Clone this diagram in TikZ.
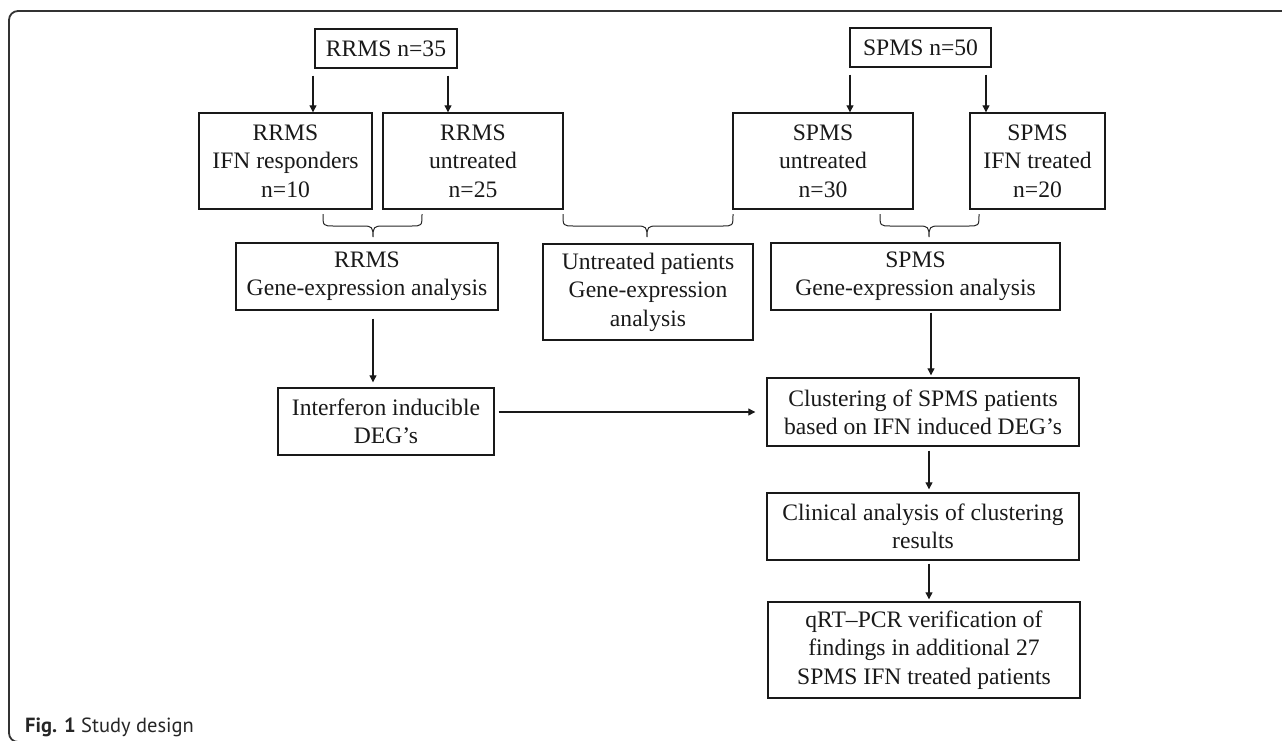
\documentclass[tikz,border=0pt]{standalone}
\usepackage{fontspec}
\setmainfont{Liberation Serif}
\newfontfamily\capfont{PT Sans}
\usetikzlibrary{arrows.meta}
\newcommand\mybrace[4]{% left, tip, right, top y
  \draw[bracestyle] (#1,#4) .. controls (#1,#4+12) and (#1,#4+12) .. (#1+11,#4+12)
    -- (#2-10,#4+12) .. controls (#2-1,#4+12) and (#2,#4+13) .. (#2,#4+23)
    .. controls (#2,#4+13) and (#2+1,#4+12) .. (#2+10,#4+12)
    -- (#3-11,#4+12) .. controls (#3,#4+12) and (#3,#4+12) .. (#3,#4);}
\begin{document}
\begin{tikzpicture}[x=1pt,y=-1pt,
  box/.style={draw=black!90, line width=1.4pt, align=center, inner sep=0pt,
    font=\fontsize{23.6}{28.4}\selectfont, text=black!90},
  arr/.style={draw=black!90, line width=1.1pt, -{Triangle[length=7pt,width=7pt]}},
  bracestyle/.style={draw=black!85, line width=1pt}]
\useasboundingbox (0,0) rectangle (1282,740);
% frame
\draw[black!80, line width=1.8pt, rounded corners=9pt] (1300,11) -- (9,11) -- (9,742) -- (60,742);
% boxes
\node[box, minimum width=142pt, minimum height=39pt] (r35) at (386,48.5) {RRMS n=35};
\node[box, minimum width=141pt, minimum height=39pt] (s50) at (920.5,47.5) {SPMS n=50};
\node[box, minimum width=173pt, minimum height=96pt] (rIFN) at (285.5,161) {RRMS\\IFN responders\\n=10};
\node[box, minimum width=180pt, minimum height=96pt] (rUnt) at (473,161) {RRMS\\untreated\\n=25};
\node[box, minimum width=180pt, minimum height=96pt] (sUnt) at (823,161) {SPMS\\untreated\\n=30};
\node[box, minimum width=135pt, minimum height=96pt] (sIFN) at (1037.5,161) {SPMS\\IFN treated\\n=20};
\node[box, minimum width=262pt, minimum height=67pt] (rGene) at (367,276.5) {RRMS\\Gene-expression analysis};
\node[box, minimum width=210pt, minimum height=96pt] (uGene) at (648,292) {Untreated patients\\Gene-expression\\analysis};
\node[box, minimum width=289pt, minimum height=67pt] (sGene) at (915.5,276.5) {SPMS\\Gene-expression analysis};
\node[box, minimum width=216pt, minimum height=67pt] (ifn) at (386,421.5) {Interferon inducible\\DEG’s};
\node[box, minimum width=312pt, minimum height=68pt] (clust) at (923,412) {Clustering of SPMS patients\\based on IFN induced DEG’s};
\node[box, minimum width=312pt, minimum height=67pt] (clin) at (923,526.5) {Clinical analysis of clustering\\results};
\node[box, minimum width=312pt, minimum height=96pt] (qrt) at (924,650) {qRT–PCR verification of\\findings in additional 27\\SPMS IFN treated patients};
% caption
\node[anchor=base west, inner sep=0pt, font=\capfont\fontsize{20.5}{24}\selectfont, text=black!85] (cap) at (25,732) {\textbf{Fig. 1} Study design};
% arrow x positions
\coordinate (xa1) at (313,0);
\coordinate (xa2) at (448,0);
\coordinate (xa3) at (850,0);
\coordinate (xa4) at (986,0);
\coordinate (xa5) at (373,0);
\coordinate (xa6) at (931,0);
\coordinate (xa7) at (929,0);
% arrows
\draw[arr, shorten <=7pt] (r35.south -| xa1) -- (rIFN.north -| xa1);
\draw[arr, shorten <=7pt] (r35.south -| xa2) -- (rUnt.north -| xa2);
\draw[arr, shorten <=7pt] (s50.south -| xa3) -- (sUnt.north -| xa3);
\draw[arr, shorten <=7pt] (s50.south -| xa4) -- (sIFN.north -| xa4);
\draw[arr, shorten <=8pt, shorten >=5pt] (rGene.south -| xa5) -- (ifn.north -| xa5);
\draw[arr, shorten <=4pt, shorten >=11pt] (ifn.east |- clust.west) -- (clust.west);
\draw[arr, shorten <=2pt, shorten >=2pt] (sGene.south -| xa6) -- (clust.north -| xa6);
\draw[arr, shorten <=4pt, shorten >=3pt] (clust.south -| xa7) -- (clin.north -| xa7);
\draw[arr, shorten <=3pt, shorten >=2pt] (clin.south -| xa7) -- (qrt.north -| xa7);
% braces
\mybrace{323}{373}{422}{214}
\mybrace{563}{647}{733}{214}
\mybrace{880}{929}{979}{214}
\end{tikzpicture}
\end{document}
